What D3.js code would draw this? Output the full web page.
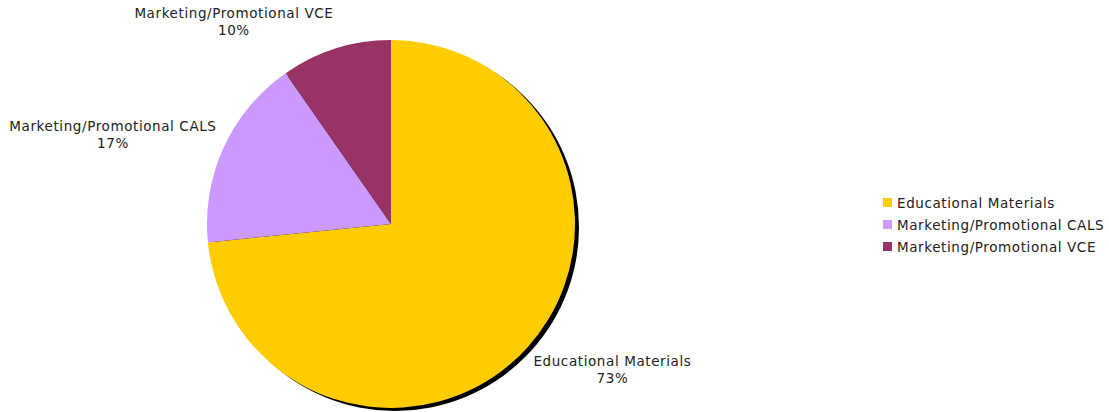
<!DOCTYPE html>
<html>
<head>
<meta charset="utf-8">
<script src="https://cdn.jsdelivr.net/npm/d3@7"></script>
<style>
  body { margin: 0; background: #fff; }
  text { font-family: "DejaVu Sans", Verdana, sans-serif; font-size: 13.5px; letter-spacing: 0.6px; fill: #222; }
</style>
</head>
<body>
<svg id="chart"></svg>
<script>
// chart data
const categories = ["Educational Materials", "Marketing/Promotional CALS", "Marketing/Promotional VCE"];
const shares = [73.4, 16.9, 9.7];
const colors = ["#FFCC00", "#CC99FF", "#993366"];

const width = 1109;
const height = 412;
const cx = 391;
const cy = 224;
const radius = 184;

const svg = d3.select("#chart")
    .attr("width", width)
    .attr("height", height);

const data = categories.map((c, i) => ({ name: c, value: shares[i], color: colors[i] }));

const pie = d3.pie()
    .sort(null)
    .value(d => d.value);
const arcs = pie(data);

const arc = d3.arc()
    .innerRadius(0)
    .outerRadius(radius);

const plot = svg.append("g")
    .attr("transform", "translate(" + cx + ", " + cy + ")");

// drop shadow
plot.append("circle")
    .attr("cx", 4)
    .attr("cy", 3)
    .attr("r", radius)
    .attr("fill", "#000");

plot.selectAll("path.slice")
    .data(arcs)
    .enter().append("path")
    .attr("class", "slice")
    .attr("d", arc)
    .attr("fill", d => d.data.color);

// labels sit just outside the pie on the mid angle
const labelArc = d3.arc().innerRadius(radius + 8).outerRadius(radius + 8);
const lineH = 17;
const blockH = 2 * lineH + 2;
arcs.forEach(a => {
    const p = labelArc.centroid(a);
    const ux = Math.abs(p[0]), uy = Math.abs(p[1]);
    const g = plot.append("g");
    const t1 = g.append("text").text(a.data.name);
    const t2 = g.append("text").text(Math.round(a.data.value) + "%");
    const w = Math.max(t1.node().getComputedTextLength(), t2.node().getComputedTextLength());
    const left = p[0] >= 0 ? p[0] : p[0] - w;
    const k = p[1] >= 0 ? 1 : Math.min(1, uy / ux);
    const midY = p[1] + Math.sign(p[1]) * blockH / 2 * k;
    const top = midY - blockH / 2;
    t1.attr("x", left + w / 2).attr("y", top + 13).attr("text-anchor", "middle");
    t2.attr("x", left + w / 2).attr("y", top + 13 + lineH).attr("text-anchor", "middle");
});

// legend
const legend = svg.append("g")
    .attr("transform", "translate(883, 198)");
const item = legend.selectAll("g")
    .data(data)
    .enter().append("g")
    .attr("transform", (d, i) => "translate(0, " + i * 22 + ")");
item.append("rect")
    .attr("width", 9)
    .attr("height", 9)
    .attr("fill", d => d.color);
item.append("text")
    .attr("x", 14)
    .attr("y", 10)
    .text(d => d.name);
</script>
</body>
</html>
